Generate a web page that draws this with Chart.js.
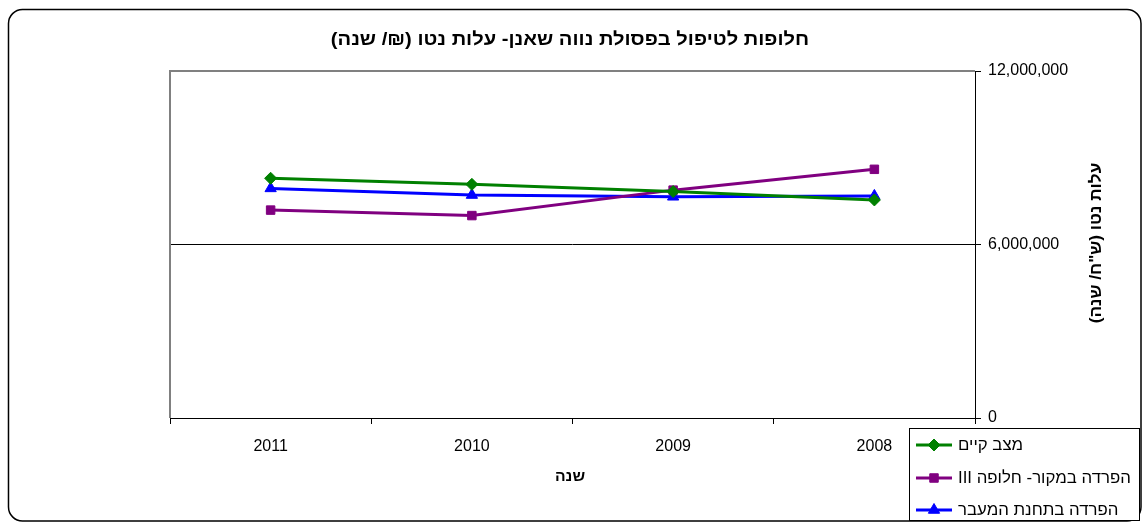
<!DOCTYPE html>
<html>
<head>
<meta charset="utf-8">
<script src="https://cdn.jsdelivr.net/npm/chart.js@4/dist/chart.umd.min.js"></script>
<style>
  html, body { margin: 0; padding: 0; background: #fff; }
  #wrap { width: 1142px; height: 522px; position: relative; }
</style>
</head>
<body>
<div id="wrap"><canvas id="cost-chart" width="1142" height="522"></canvas></div>
<script>
// שנים (ציר X) ועלות נטו לכל חלופה, ש"ח לשנה
const years = ["2011", "2010", "2009", "2008"];
const currentState = [8290000, 8080000, 7830000, 7540000];
const sourceSeparation = [7190000, 7000000, 7880000, 8600000];
const stationSeparation = [7940000, 7710000, 7650000, 7680000];
const seriesNames = ["מצב קיים", "הפרדה במקור- חלופה III", "הפרדה בתחנת המעבר"];
const yTicks = [0, 6000000, 12000000];

const chartTitle = "חלופות לטיפול בפסולת נווה שאנן- עלות נטו (₪/ שנה)";
const yTitle = 'עלות נטו (ש"ח/ שנה)';
const xTitle = "שנה";

const FONT = "Arial, 'Liberation Sans', sans-serif";

const seriesStyle = [
  { color: "#008000", point: "rectRot", radius: 6 },
  { color: "#800080", point: "rect", radius: 6 },
  { color: "#0000ff", point: "triangle", radius: 6.5 }
];

// טקסט מעט מורחב לרוחב
function wideText(c, text, x, y, sx) {
  c.save();
  c.translate(x, y);
  c.scale(sx, 1);
  c.fillText(text, 0, 0);
  c.restore();
}

// רקע, מסגרת, כותרות ומקרא — מצוירים ידנית
const chromePlugin = {
  id: "chrome",
  beforeDraw(chart) {
    const c = chart.ctx;
    c.save();
    c.fillStyle = "#fff";
    c.fillRect(0, 0, chart.width, chart.height);
    c.restore();
  },
  beforeDatasetsDraw(chart) {
    const c = chart.ctx, a = chart.chartArea;
    c.save();
    c.strokeStyle = "#808080";
    c.lineWidth = 2;
    c.beginPath();
    c.moveTo(a.left, a.bottom);
    c.lineTo(a.left, a.top);
    c.lineTo(a.right, a.top);
    c.stroke();
    c.restore();
  },
  afterDraw(chart) {
    const c = chart.ctx;
    c.save();

    // מסגרת חיצונית מעוגלת
    c.strokeStyle = "#000";
    c.lineWidth = 1.5;
    c.beginPath();
    c.roundRect(8.5, 9.5, 1132.5, 511.5, 14);
    c.stroke();

    c.fillStyle = "#000";
    c.direction = "rtl";
    c.textAlign = "center";
    c.textBaseline = "middle";

    // כותרת
    c.font = "bold 18px " + FONT;
    wideText(c, chartTitle, 570, 40, 1.12);

    // כותרת ציר X
    c.font = "bold 15px " + FONT;
    wideText(c, xTitle, 570, 477, 1.05);

    // כותרת ציר Y (מסובבת נגד כיוון השעון)
    c.font = "bold 16px " + FONT;
    c.save();
    c.translate(1097, 243);
    c.rotate(-Math.PI / 2);
    wideText(c, yTitle, 0, 0, 1.08);
    c.restore();

    // מקרא
    const lx = 909.5, ly = 428.5;
    c.fillStyle = "#fff";
    c.fillRect(lx, ly, 230, 92);
    c.strokeStyle = "#000";
    c.lineWidth = 1;
    c.strokeRect(lx, ly, 230, 92);

    const rows = [445, 478, 510];
    chart.data.datasets.forEach((ds, i) => {
      const y = rows[i];
      const st = seriesStyle[i];
      c.strokeStyle = st.color;
      c.fillStyle = st.color;
      c.lineWidth = 3;
      c.beginPath();
      c.moveTo(916, y);
      c.lineTo(952, y);
      c.stroke();
      c.lineWidth = 1;
      Chart.helpers.drawPoint(c, {
        pointStyle: st.point, radius: st.radius, borderWidth: 1
      }, 934, y);
      c.fillStyle = "#000";
      c.font = "16px " + FONT;
      c.textAlign = "left";
      c.textBaseline = "middle";
      wideText(c, ds.label, 958, y + 1, 1.05);
    });

    c.restore();
  }
};

const makeSet = (label, data, i) => ({
  label,
  data,
  borderColor: seriesStyle[i].color,
  backgroundColor: seriesStyle[i].color,
  borderWidth: 3,
  pointStyle: seriesStyle[i].point,
  pointRadius: seriesStyle[i].radius,
  pointBorderWidth: 1,
  tension: 0
});

new Chart(document.getElementById("cost-chart"), {
  type: "line",
  data: {
    labels: years,
    datasets: [
      makeSet(seriesNames[0], currentState, 0),
      makeSet(seriesNames[1], sourceSeparation, 1),
      makeSet(seriesNames[2], stationSeparation, 2)
    ]
  },
  options: {
    responsive: false,
    animation: false,
    layout: { padding: { left: 170, top: 71, right: 0, bottom: 0 } },
    plugins: {
      legend: { display: false },
      title: { display: false },
      tooltip: { enabled: false }
    },
    scales: {
      x: {
        offset: true,
        afterFit: s => { s.height = 522 - 418; },
        grid: { offset: true, drawOnChartArea: false, tickLength: 6, tickColor: "#000" },
        border: { color: "#000", width: 1 },
        ticks: { color: "#000", font: { family: FONT, size: 16 }, padding: 13, maxRotation: 0 }
      },
      y: {
        position: "right",
        min: 0,
        max: 12000000,
        afterFit: s => { s.width = 1142 - 975; },
        afterBuildTicks: s => { s.ticks = yTicks.map(v => ({ value: v })); },
        grid: {
          color: ctx => (ctx.tick && ctx.tick.value === 6000000 ? "#000" : "rgba(0,0,0,0)"),
          tickColor: "#000",
          tickLength: 6,
          lineWidth: 1
        },
        border: { color: "#000", width: 1 },
        ticks: {
          color: "#000",
          font: { family: FONT, size: 16 },
          padding: 7,
          callback: v => v.toLocaleString("en-US")
        }
      }
    }
  },
  plugins: [chromePlugin]
});
</script>
</body>
</html>
